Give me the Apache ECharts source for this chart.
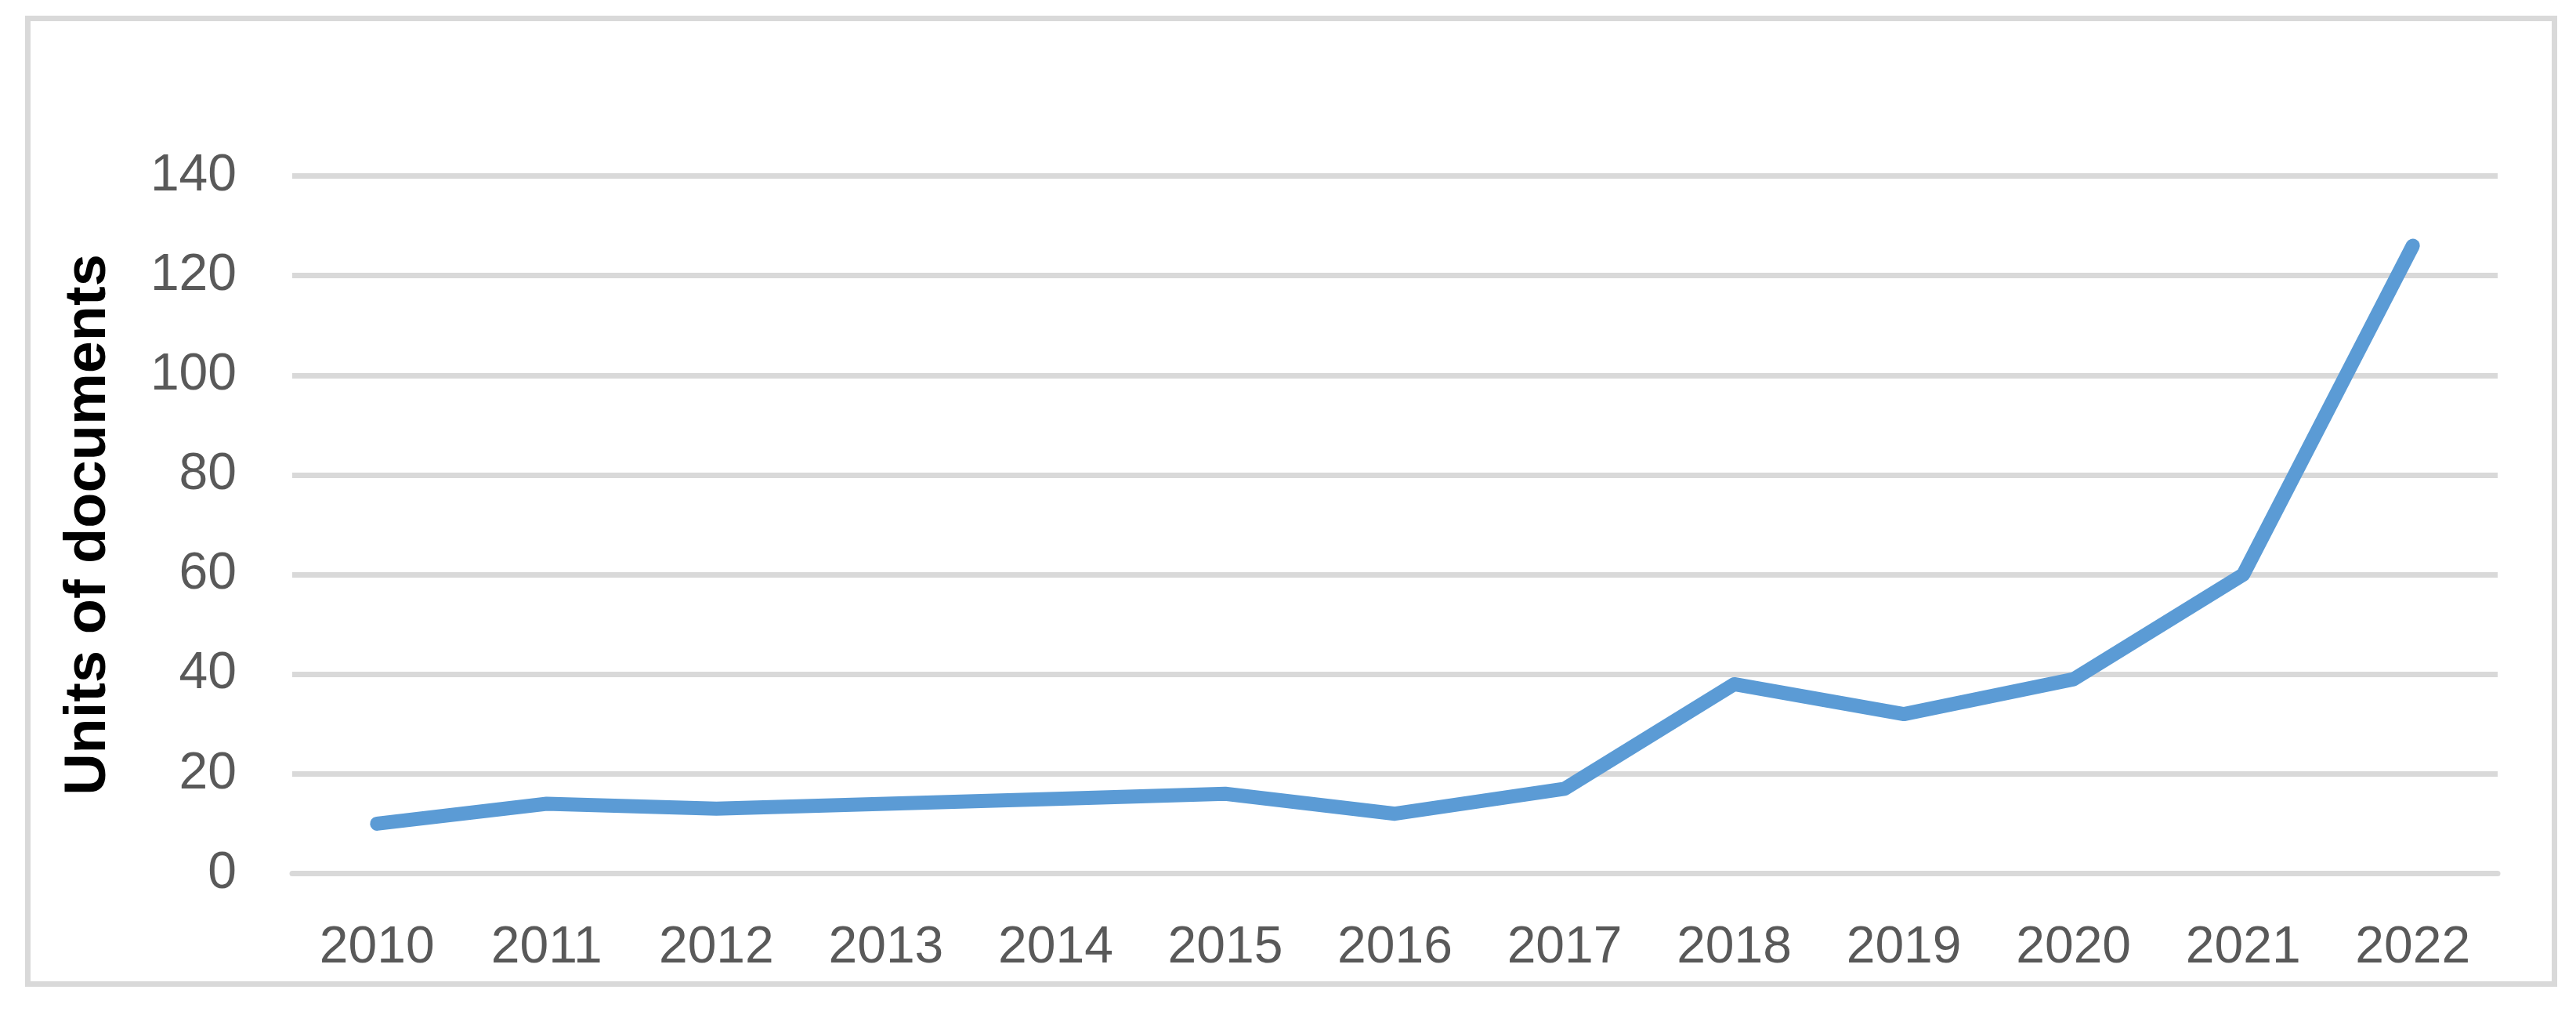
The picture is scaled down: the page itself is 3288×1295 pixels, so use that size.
<!DOCTYPE html>
<html>
<head>
<meta charset="utf-8">
<script src="https://cdn.jsdelivr.net/npm/echarts@6/dist/echarts.min.js"></script>
<style>
html,body{margin:0;padding:0;background:#fff;}
#chart{width:3288px;height:1295px;}
</style>
</head>
<body>
<div id="chart"></div>
<script>
const years = ['2010','2011','2012','2013','2014','2015','2016','2017','2018','2019','2020','2021','2022'];
const documents = [10, 14, 13, 14, 15, 16, 12, 17, 38, 32, 39, 60, 126];
const yTitle = 'Units of documents';

const chart = echarts.init(document.getElementById('chart'), null, {renderer: 'canvas'});
chart.setOption({
  backgroundColor: '#ffffff',
  animation: false,
  graphic: [{
    type: 'rect',
    shape: {x: 35.5, y: 23.5, width: 3225, height: 1232},
    style: {fill: 'none', stroke: '#D9D9D9', lineWidth: 7},
    silent: true
  }],
  grid: {left: 373, right: 100, top: 224.5, bottom: 180.5, containLabel: false},
  xAxis: {
    type: 'category',
    data: years,
    boundaryGap: true,
    axisLine: {show: true, lineStyle: {color: '#D9D9D9', width: 7}},
    axisTick: {show: false},
    axisLabel: {color: '#595959', fontSize: 66, fontFamily: 'Liberation Sans', margin: 62}
  },
  yAxis: {
    type: 'value',
    min: 0, max: 140, interval: 20,
    name: yTitle,
    nameLocation: 'middle',
    nameRotate: 90,
    nameGap: 222,
    nameTextStyle: {color: '#000000', fontSize: 74, fontWeight: 'bold', fontFamily: 'Liberation Sans'},
    axisLine: {show: false},
    axisTick: {show: false},
    splitLine: {show: true, lineStyle: {color: '#D9D9D9', width: 7}},
    axisLabel: {color: '#595959', fontSize: 66, fontFamily: 'Liberation Sans', margin: 71}
  },
  series: [{
    type: 'line',
    data: documents,
    showSymbol: false,
    symbol: 'none',
    lineStyle: {color: '#5B9BD5', width: 18, cap: 'round', join: 'round'},
    itemStyle: {color: '#5B9BD5'}
  }]
});
</script>
</body>
</html>
